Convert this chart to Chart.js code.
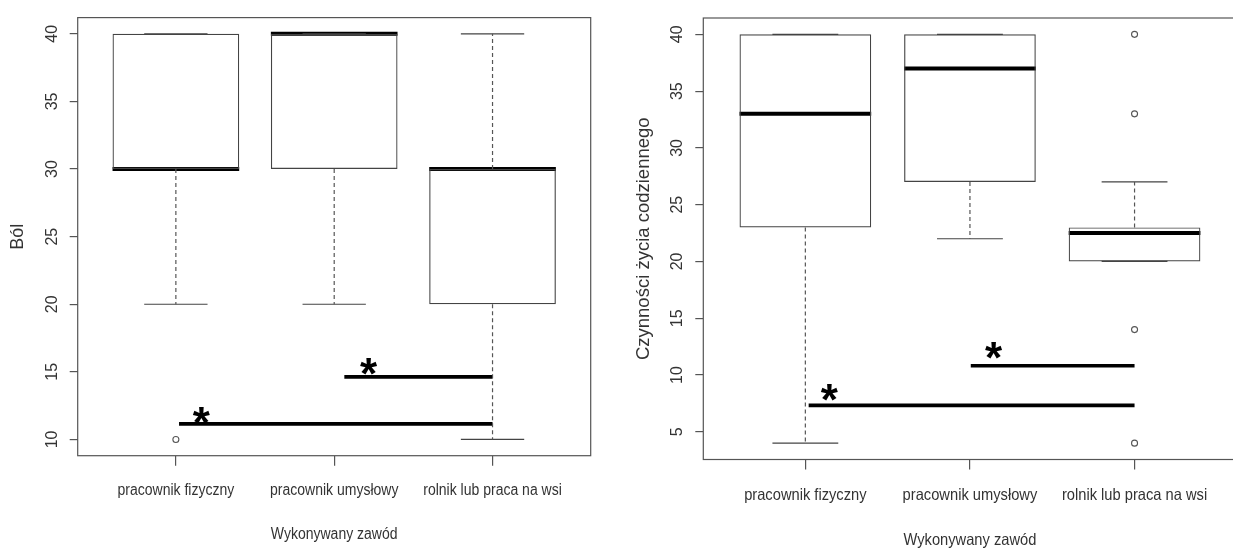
<!DOCTYPE html>
<html lang="pl">
<head>
  <meta charset="UTF-8" />
  <title>Ból / Czynności życia codziennego wg zawodu</title>
  <script src="https://cdn.jsdelivr.net/npm/chart.js"></script>
  <style>
    html, body { margin: 0; padding: 0; background: #fff; overflow: hidden; }
    #wrap { position: relative; width: 1233px; height: 548px; overflow: hidden; }
    canvas { position: absolute; top: 0; }
    #pain { left: 0; }
    #daily { left: 615px; }
  </style>
</head>
<body>
<div id="wrap">
  <canvas id="pain" width="615" height="548"></canvas>
  <canvas id="daily" width="640" height="548"></canvas>
</div>
<script>
  const categories = ['pracownik fizyczny', 'pracownik umysłowy', 'rolnik lub praca na wsi'];
  const xTitle = 'Wykonywany zawód';

  // left panel: Ból
  const painLow = [20, 20, 10];
  const painQ1 = [30, 30, 20];
  const painMedian = [30, 40, 30];
  const painQ3 = [40, 40, 30];
  const painHigh = [40, 40, 40];
  const painOutliers = [[10], [], []];
  const painTicks = [10, 15, 20, 25, 30, 35, 40];
  // significance bars (from category, to category, level) and their stars
  const painSigFrom = [1.02, 2.064];
  const painSigTo = [3, 3];
  const painSigY = [11.15, 14.63];
  const painStarX = [1.16, 2.217];
  const painStarY = [12.0, 15.6];

  // right panel: Czynności życia codziennego
  const dailyLow = [4, 22, 20];
  const dailyQ1 = [23, 27, 20];
  const dailyMedian = [33, 37, 22.5];
  const dailyQ3 = [40, 40, 23];
  const dailyHigh = [40, 40, 27];
  const dailyOutliers = [[], [], [40, 33, 14, 4]];
  const dailyTicks = [5, 10, 15, 20, 25, 30, 35, 40];
  const dailySigFrom = [1.02, 2.005];
  const dailySigTo = [3, 3];
  const dailySigY = [7.33, 10.82];
  const dailyStarX = [1.146, 2.143];
  const dailyStarY = [8.7, 12.4];

  const SANS = "'Liberation Sans', Arial, sans-serif";
  const INK = '#333';
  const LINE = '#444';

  // vertical/horizontal pieces as one line dataset, broken by null points
  function segments(list) {
    const pts = [];
    list.forEach(s => {
      pts.push({ x: s[0], y: s[1] }, { x: s[2], y: s[3] }, { x: s[2], y: null });
    });
    return pts;
  }

  const framePlugin = {
    id: 'frame',
    afterDraw(chart) {
      const a = chart.chartArea, ctx = chart.ctx;
      ctx.save();
      ctx.strokeStyle = '#555';
      ctx.lineWidth = 1.2;
      ctx.strokeRect(a.left, a.top, a.right - a.left, a.bottom - a.top);
      ctx.restore();
    }
  };

  const starPlugin = {
    id: 'stars',
    afterDatasetsDraw(chart, args, opts) {
      const ctx = chart.ctx, xs = chart.scales.x, ys = chart.scales.y;
      ctx.save();
      ctx.fillStyle = '#000';
      ctx.font = 'bold ' + opts.size + 'px ' + SANS;
      ctx.textAlign = 'center';
      ctx.textBaseline = 'alphabetic';
      opts.xs.forEach((v, i) => {
        ctx.fillText('*', xs.getPixelForValue(v), ys.getPixelForValue(opts.ys[i]) + opts.size * 0.58);
      });
      ctx.restore();
    }
  };

  // category labels + axis title in a condensed (R-like narrow) face
  const narrowLabels = {
    id: 'narrowLabels',
    afterDraw(chart, args, o) {
      const ctx = chart.ctx, xs = chart.scales.x;
      ctx.save();
      ctx.fillStyle = INK;
      ctx.font = o.size + 'px ' + SANS;
      ctx.textAlign = 'center';
      ctx.textBaseline = 'middle';
      const put = (text, x, y) => {
        ctx.save();
        ctx.translate(x, y);
        ctx.scale(o.squeeze, 1);
        ctx.fillText(text, 0, 0);
        ctx.restore();
      };
      xs.ticks.forEach(t => put(categories[t.value - 1], xs.getPixelForValue(t.value), o.labelY));
      put(xTitle, (chart.chartArea.left + chart.chartArea.right) / 2, o.titleY);
      ctx.restore();
    }
  };

  function boxChart(id, d, L) {
    const whiskers = [], caps = [], medians = [], sig = [], outl = [];
    categories.forEach((c, i) => {
      const x = i + 1;
      if (d.low[i] < d.q1[i]) whiskers.push([x, d.q1[i], x, d.low[i]]);
      if (d.high[i] > d.q3[i]) whiskers.push([x, d.q3[i], x, d.high[i]]);
      caps.push([x - 0.2, d.low[i], x + 0.2, d.low[i]]);
      caps.push([x - 0.2, d.high[i], x + 0.2, d.high[i]]);
      medians.push([x - 0.4, d.median[i], x + 0.4, d.median[i]]);
      d.outliers[i].forEach(v => outl.push({ x: x, y: v }));
    });
    d.sigFrom.forEach((f, i) => sig.push([f, d.sigY[i], d.sigTo[i], d.sigY[i]]));

    return new Chart(document.getElementById(id), {
      type: 'bar',
      data: {
        datasets: [
          {
            type: 'bar',
            data: categories.map((c, i) => ({ x: i + 1, y: [d.q1[i], d.q3[i]] })),
            backgroundColor: 'rgba(255,255,255,0)',
            borderColor: LINE,
            borderWidth: 1.2,
            borderSkipped: false,
            categoryPercentage: 1,
            barPercentage: 0.8
          },
          {
            type: 'line', data: segments(whiskers), borderColor: '#555', borderWidth: 1.2,
            borderDash: [4, 3], pointRadius: 0, spanGaps: false
          },
          {
            type: 'line', data: segments(caps), borderColor: LINE, borderWidth: 1.2,
            pointRadius: 0, spanGaps: false
          },
          {
            type: 'line', data: segments(medians), borderColor: '#000', borderWidth: 4,
            borderCapStyle: 'butt', pointRadius: 0, spanGaps: false
          },
          {
            type: 'line', data: segments(sig), borderColor: '#000', borderWidth: 3.6,
            borderCapStyle: 'butt', pointRadius: 0, spanGaps: false
          },
          {
            type: 'scatter', data: outl, pointStyle: 'circle', pointRadius: 3,
            pointBorderWidth: 1.1, borderColor: '#555', backgroundColor: '#fff'
          }
        ]
      },
      options: {
        responsive: false,
        animation: false,
        events: [],
        layout: { autoPadding: false, padding: { top: L.top, right: L.right, bottom: 0, left: 0 } },
        plugins: {
          legend: { display: false },
          tooltip: { enabled: false },
          stars: { xs: d.starX, ys: d.starY, size: L.star },
          narrowLabels: { size: L.xFont, squeeze: L.squeeze, labelY: L.labelY, titleY: L.titleY }
        },
        scales: {
          x: {
            type: 'linear', min: 0.38, max: 3.62, offset: false,
            afterBuildTicks: s => { s.ticks = categories.map((c, i) => ({ value: i + 1 })); },
            afterFit: s => { s.height = L.xAxisH; },
            ticks: { display: false, autoSkip: false },
            grid: { offset: false, drawOnChartArea: false, drawTicks: true, tickLength: 10, color: '#555', lineWidth: 1.2 },
            border: { display: false },
            title: { display: false }
          },
          y: {
            type: 'linear', min: d.yMin, max: d.yMax,
            afterBuildTicks: s => { s.ticks = d.ticks.map(v => ({ value: v })); },
            afterFit: s => { s.width = L.yAxisW; },
            ticks: {
              autoSkip: false, minRotation: 90, maxRotation: 90, crossAlign: 'center',
              padding: L.yTickPad, color: INK,
              font: { family: SANS, size: 16 }
            },
            grid: { drawOnChartArea: false, drawTicks: true, tickLength: 8, color: '#555', lineWidth: 1.2 },
            border: { display: false },
            title: {
              display: true, text: d.yTitle, color: INK,
              font: { family: SANS, size: L.yTitleFont },
              padding: { top: L.yTitlePad, bottom: 0 }
            }
          }
        }
      },
      plugins: [framePlugin, starPlugin, narrowLabels]
    });
  }

  boxChart('pain', {
    low: painLow, q1: painQ1, median: painMedian, q3: painQ3, high: painHigh,
    outliers: painOutliers, ticks: painTicks, yMin: 8.8, yMax: 41.2, yTitle: 'Ból',
    sigFrom: painSigFrom, sigTo: painSigTo, sigY: painSigY, starX: painStarX, starY: painStarY
  }, {
    top: 12.3, right: 24.3, yAxisW: 77.7, xAxisH: 92.3,
    xFont: 16, squeeze: 0.875, labelY: 491, titleY: 535,
    yTickPad: 8, yTitlePad: 7, yTitleFont: 18, star: 44
  });

  boxChart('daily', {
    low: dailyLow, q1: dailyQ1, median: dailyMedian, q3: dailyQ3, high: dailyHigh,
    outliers: dailyOutliers, ticks: dailyTicks, yMin: 2.56, yMax: 41.44, yTitle: 'Czynności życia codziennego',
    sigFrom: dailySigFrom, sigTo: dailySigTo, sigY: dailySigY, starX: dailyStarX, starY: dailyStarY
  }, {
    top: 10.5, right: 18.4, yAxisW: 88.3, xAxisH: 88.5,
    xFont: 16.5, squeeze: 0.89, labelY: 495, titleY: 540,
    yTickPad: 8.4, yTitlePad: 17.7, yTitleFont: 18.5, star: 44
  });
</script>
</body>
</html>
